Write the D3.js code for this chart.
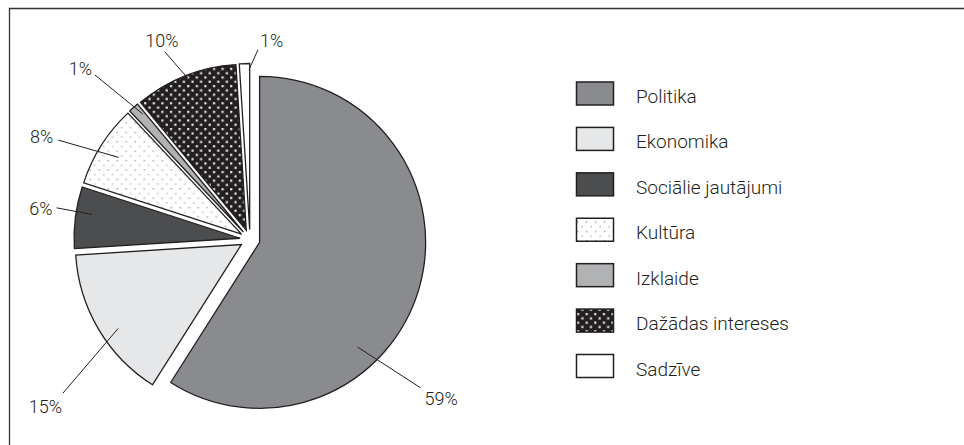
<!DOCTYPE html>
<html>
<head>
<meta charset="utf-8">
<script src="https://d3js.org/d3.v7.min.js"></script>
<style>
  body { margin: 0; background: #fff; }
  svg text { font-family: Roboto, "Liberation Sans", sans-serif; font-weight: 300; fill: #231f20; }
</style>
</head>
<body>
<script>
var categories = ["Politika", "Ekonomika", "Sociālie jautājumi", "Kultūra", "Izklaide", "Dažādas intereses", "Sadzīve"];
var values = [59, 15, 6, 8, 1, 10, 1]; // percent
var fills = ["#8a8b8f", "#e6e7e8", "#4c4d4f", "url(#dotsLight)", "#b1b2b4", "url(#dotsDark)", "#ffffff"];

// where the leader lines sit: [angle in degrees clockwise from top, radius] from the pie centre
var leaderIn  = [[135, 152], [236, 159], [279, 160], [302, 155], [319.5, 165], [339, 172], [359.7, 170]];
var leaderOut = [[131, 226], [230.6, 242], [279.3, 196], [297.4, 216], [316.7, 226], [335.6, 206], [2.4, 190]];
// text anchor and offset from the outer end of the leader
var textPos = [["start", 4, 17], ["end", -1, 20], ["end", -4, 7], ["end", -5, 3], ["end", -3, 0], ["middle", -3, -5], ["start", 2, -3]];

var width = 964, height = 445;
var cx = 250, cy = 239.5, R = 166, explode = 10;
var ink = "#231f20";

var svg = d3.select("body").append("svg")
    .attr("width", width)
    .attr("height", height);

// fill patterns
var defs = svg.append("defs");
var pl = defs.append("pattern").attr("id", "dotsLight")
    .attr("patternUnits", "userSpaceOnUse").attr("width", 9).attr("height", 9.4);
pl.append("rect").attr("width", 9).attr("height", 9.4).attr("fill", "#fff");
pl.append("rect").attr("x", 1).attr("y", 1).attr("width", 1.3).attr("height", 1.3).attr("fill", "#8f8f8f");
pl.append("rect").attr("x", 5.5).attr("y", 5.7).attr("width", 1.3).attr("height", 1.3).attr("fill", "#a8a8a8");

var pd = defs.append("pattern").attr("id", "dotsDark")
    .attr("patternUnits", "userSpaceOnUse").attr("width", 8.6).attr("height", 8.6);
pd.append("rect").attr("width", 8.6).attr("height", 8.6).attr("fill", ink);
pd.append("rect").attr("x", 1).attr("y", 1).attr("width", 2.2).attr("height", 2.2).attr("fill", "#e8e8e8");
pd.append("rect").attr("x", 5.3).attr("y", 5.3).attr("width", 2.2).attr("height", 2.2).attr("fill", "#e8e8e8");

// frame (only top and left edges are inside the picture)
svg.append("path")
    .attr("d", "M9.5," + height + "V8.5H" + width)
    .attr("fill", "none")
    .attr("stroke", "#333")
    .attr("stroke-width", 1.3);

var pie = d3.pie().sort(null).value(function(d) { return d; });
var arc = d3.arc().innerRadius(0).outerRadius(R);
var slices = pie(values);

function polar(a, r) {
    var t = a * Math.PI / 180;
    return [cx + r * Math.sin(t), cy - r * Math.cos(t)];
}

svg.append("g").selectAll("path")
    .data(slices)
    .enter().append("path")
    .attr("transform", function(d) {
        var m = (d.startAngle + d.endAngle) / 2;
        return "translate(" + (cx + explode * Math.sin(m)) + "," + (cy - explode * Math.cos(m)) + ")";
    })
    .attr("d", arc)
    .attr("fill", function(d, i) { return fills[i]; })
    .attr("stroke", ink)
    .attr("stroke-width", 1.3)
    .attr("stroke-linejoin", "miter");

// leader lines and percent labels
var labels = svg.append("g").selectAll("g")
    .data(slices)
    .enter().append("g");

labels.append("line")
    .attr("x1", function(d, i) { return polar(leaderIn[i][0], leaderIn[i][1])[0]; })
    .attr("y1", function(d, i) { return polar(leaderIn[i][0], leaderIn[i][1])[1]; })
    .attr("x2", function(d, i) { return polar(leaderOut[i][0], leaderOut[i][1])[0]; })
    .attr("y2", function(d, i) { return polar(leaderOut[i][0], leaderOut[i][1])[1]; })
    .attr("stroke", ink)
    .attr("stroke-width", 1);

labels.append("text")
    .attr("x", function(d, i) { return polar(leaderOut[i][0], leaderOut[i][1])[0] + textPos[i][1]; })
    .attr("y", function(d, i) { return polar(leaderOut[i][0], leaderOut[i][1])[1] + textPos[i][2]; })
    .attr("text-anchor", function(d, i) { return textPos[i][0]; })
    .style("font-size", "18px")
    .text(function(d) { return d.value + "%"; });

// legend
var ly = d3.scaleLinear().domain([0, categories.length - 1]).range([93.5, 366]);
var legend = svg.append("g").selectAll("g")
    .data(categories)
    .enter().append("g")
    .attr("transform", function(d, i) { return "translate(576," + ly(i) + ")"; });

legend.append("rect")
    .attr("x", 0.5)
    .attr("y", -11.5)
    .attr("width", 37)
    .attr("height", 23)
    .attr("fill", function(d, i) { return fills[i]; })
    .attr("stroke", ink)
    .attr("stroke-width", 1.5);

legend.append("text")
    .attr("x", 60)
    .attr("y", 9.5)
    .style("font-size", "19px")
    .text(function(d) { return d; });
</script>
</body>
</html>
